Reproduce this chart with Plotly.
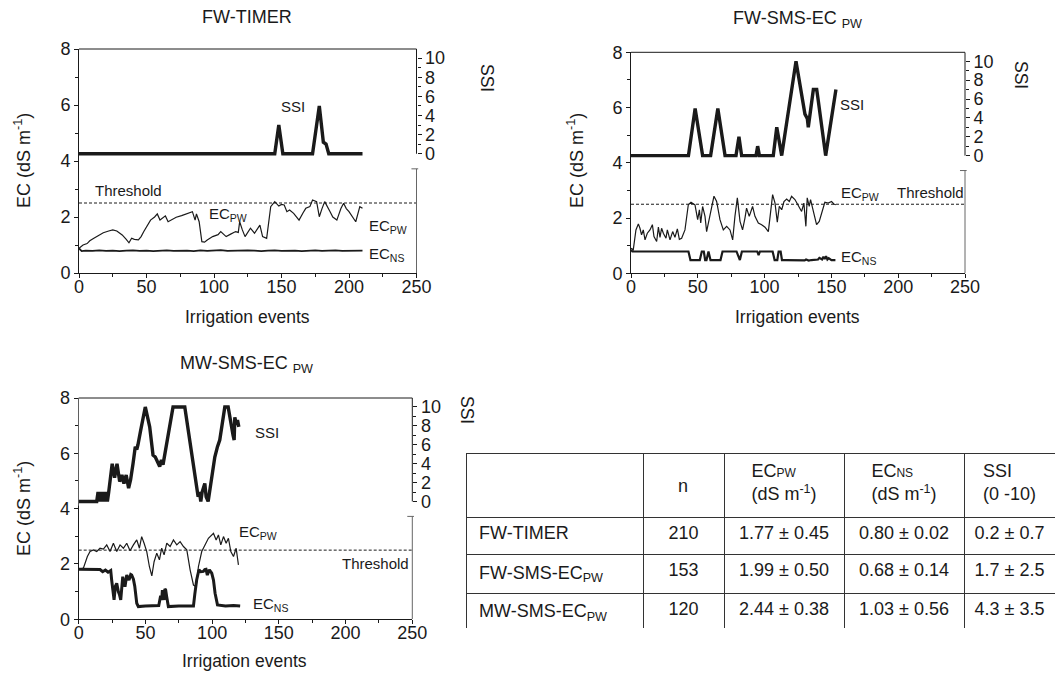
import plotly.graph_objects as go

# ---------------- DATA ----------------
# FW-TIMER
timer_pw_x = [0, 3, 6, 8, 11, 14, 18, 22, 25, 28, 32, 35, 37, 39, 41, 44, 46, 48, 51, 53, 56, 58, 60, 62, 64, 66, 69, 72, 76, 80, 84, 86, 87, 89, 91, 93, 95, 99, 103, 105, 109, 112, 116, 118, 119, 121, 123, 127, 130, 134, 136, 139, 140, 142, 145, 148, 150, 152, 154, 156, 159, 163, 166, 168, 171, 173, 176, 178, 180, 182, 186, 188, 191, 194, 196, 198, 200, 203, 205, 208, 210]
timer_pw_y = [0.88, 1.0, 1.05, 1.15, 1.24, 1.33, 1.44, 1.5, 1.54, 1.5, 1.36, 1.2, 1.08, 1.24, 1.2, 1.18, 1.3, 1.48, 1.75, 1.89, 2.0, 2.11, 1.89, 1.98, 2.04, 1.83, 1.92, 1.99, 2.05, 2.11, 2.19, 1.89, 2.11, 1.83, 1.12, 1.1, 1.18, 1.3, 1.37, 1.48, 1.30, 1.38, 1.48, 1.45, 1.83, 1.54, 1.30, 1.6, 1.42, 1.71, 1.30, 1.24, 1.6, 2.37, 2.55, 2.39, 2.45, 2.43, 2.19, 2.25, 2.13, 1.89, 2.15, 2.31, 2.37, 2.61, 2.55, 2.01, 2.3, 2.55, 2.19, 2.0, 1.89, 2.3, 2.49, 2.3, 2.19, 1.95, 1.83, 2.37, 2.31]
timer_ns_x = [0, 2, 5, 10, 15, 20, 25, 30, 35, 40, 45, 50, 55, 60, 65, 70, 75, 80, 85, 90, 95, 100, 105, 110, 115, 120, 125, 130, 135, 140, 145, 150, 155, 160, 165, 170, 175, 180, 185, 190, 195, 200, 205, 210]
timer_ns_y = [0.88, 0.78, 0.80, 0.79, 0.81, 0.79, 0.80, 0.78, 0.80, 0.81, 0.79, 0.80, 0.78, 0.80, 0.81, 0.79, 0.80, 0.80, 0.78, 0.81, 0.79, 0.80, 0.82, 0.79, 0.80, 0.79, 0.81, 0.80, 0.78, 0.80, 0.81, 0.79, 0.80, 0.80, 0.78, 0.80, 0.81, 0.79, 0.80, 0.81, 0.79, 0.80, 0.79, 0.80]
timer_ssi_x = [0, 145, 148, 151, 173, 178, 181, 183, 185, 210]
timer_ssi_y = [0, 0, 3, 0, 0, 5, 1.2, 1, 0, 0]

# FW-SMS-ECpw
fw_pw_x = [0, 1.7, 3.7, 5.5, 6.7, 7.9, 9.2, 10.5, 12.2, 14.2, 16, 17.2, 19.2, 20.5, 21.7, 22.9, 24.2, 26.2, 27.2, 29.2, 31.2, 32.9, 34.7, 36.2, 37.9, 40.4, 42.9, 44.9, 47.9, 49.9, 51.2, 52.2, 53.6, 55.4, 56.6, 59.1, 62.1, 64.1, 66.6, 69.1, 71.6, 74.1, 76.1, 77.8, 79.6, 81.6, 83.5, 85.3, 86.5, 88.5, 91, 92.8, 95.3, 97.8, 100.3, 102.8, 104.5, 106, 107.8, 109.5, 111, 112.8, 114.5, 116.5, 118.5, 120.2, 122.7, 125.2, 127.7, 129.4, 130.9, 131.9, 133.4, 134.4, 136.4, 138.9, 140.9, 142.6, 145.1, 147.6, 150.1, 151.8, 153.3]
fw_pw_y = [0.91, 0.85, 1.57, 1.79, 1.63, 1.39, 1.57, 1.21, 1.45, 1.57, 1.76, 1.33, 1.15, 1.67, 1.30, 1.63, 1.45, 1.27, 1.57, 1.21, 1.51, 1.30, 1.61, 1.23, 1.27, 1.57, 2.48, 2.57, 2.48, 1.94, 2.30, 1.82, 2.42, 2.06, 1.51, 2.12, 2.79, 2.60, 1.94, 1.57, 1.70, 1.57, 1.21, 2.06, 2.73, 1.88, 1.57, 2.0, 2.36, 2.06, 2.42, 2.06, 1.82, 1.76, 1.67, 1.51, 2.30, 2.85, 2.54, 1.85, 2.42, 2.30, 2.60, 2.69, 2.60, 2.79, 2.67, 2.48, 2.24, 2.54, 1.70, 2.73, 2.42, 2.67, 2.30, 1.76, 1.88, 2.18, 2.57, 2.54, 2.60, 2.51, 2.48]
fw_ns_x = [0, 1, 43, 44.5, 51.5, 53, 54.5, 55.5, 56.5, 58, 59.5, 67, 68.5, 79, 80.5, 81.5, 83, 94.5, 95.5, 96.5, 106, 107.5, 109.5, 110.5, 112, 113, 116, 125, 130, 131, 133, 135, 140, 141, 143, 144, 145, 146, 147, 148, 150, 153]
fw_ns_y = [0.85, 0.79, 0.79, 0.48, 0.48, 0.79, 0.79, 0.48, 0.48, 0.79, 0.48, 0.48, 0.79, 0.79, 0.6, 0.48, 0.79, 0.79, 0.66, 0.79, 0.79, 0.48, 0.48, 0.79, 0.79, 0.48, 0.48, 0.48, 0.47, 0.5, 0.46, 0.48, 0.5, 0.56, 0.5, 0.6, 0.52, 0.62, 0.5, 0.55, 0.48, 0.48]
fw_ssi_x = [0, 43, 48, 53.6, 59.6, 65, 70.4, 78.6, 80.8, 82.8, 93.6, 94.8, 96.1, 106.5, 109.1, 112.8, 123.5, 130.2, 132, 132.7, 136.5, 139, 140.2, 145.7, 153.4]
fw_ssi_y = [0, 0, 5, 0, 0, 5, 0, 0, 2, 0, 0, 1, 0, 0, 3, 0, 10, 4.4, 3.9, 3, 7, 7, 5.8, 0, 7]

# MW-SMS-ECpw
mw_pw_x = [0, 3.5, 6.5, 8.5, 11, 13.5, 16, 18.5, 21, 23.5, 26, 28.5, 31, 33.5, 36, 38.5, 41, 43.5, 45.5, 47.2, 49, 51, 53, 54.8, 56.5, 58.5, 60.5, 62.2, 64, 66, 68.5, 71, 73.5, 76, 78.5, 81, 83.5, 86, 88, 89.7, 92.2, 94.7, 97.2, 101, 103, 104.7, 106.5, 108.5, 110.5, 112.2, 114, 116, 118, 119.7]
mw_pw_y = [1.81, 1.85, 2.27, 2.45, 2.51, 2.45, 2.57, 2.54, 2.69, 2.45, 2.75, 2.45, 2.69, 2.57, 2.75, 2.48, 2.69, 2.87, 2.57, 2.99, 2.75, 2.45, 1.9, 1.57, 2.08, 2.39, 2.15, 2.57, 2.33, 2.75, 2.63, 2.87, 2.69, 2.81, 2.63, 2.51, 1.79, 1.24, 1.18, 1.9, 2.45, 2.69, 2.93, 3.11, 2.87, 3.05, 2.69, 2.99, 2.75, 2.93, 2.45, 2.27, 2.57, 1.97]
mw_ns_x = [0, 10, 16, 18, 20, 22, 24, 24.7, 25.5, 26.5, 27.5, 28.5, 29.7, 30.5, 31.5, 33, 34, 34.7, 36, 37, 37.7, 39, 39.7, 41, 42, 43.5, 44.7, 50, 57, 60, 61.4, 62.2, 62.7, 63.4, 64, 64.6, 65.2, 66, 66.5, 67.2, 75, 86, 87, 88.4, 90.1, 91.5, 93.4, 94.5, 95.4, 96.4, 97.9, 99, 99.7, 101, 102.2, 104, 110, 116, 121]
mw_ns_y = [1.81, 1.81, 1.80, 1.72, 1.78, 1.70, 1.76, 1.42, 1.1, 0.70, 1.2, 1.3, 1.0, 0.9, 0.70, 1.54, 1.3, 1.18, 1.6, 1.45, 1.42, 1.62, 1.6, 1.45, 1.2, 0.58, 0.46, 0.48, 0.48, 0.5, 0.85, 0.7, 1.06, 0.8, 0.70, 1.1, 1.06, 0.8, 0.58, 0.46, 0.48, 0.48, 0.9, 1.42, 1.79, 1.72, 1.73, 1.8, 1.81, 1.6, 1.79, 1.7, 1.67, 1.42, 0.94, 0.52, 0.48, 0.5, 0.48]
mw_ssi_x = [0, 13.5, 14.5, 15.5, 16.5, 17.5, 18.5, 19.5, 20.5, 21.5, 22.5, 25.1, 26.9, 28.7, 30.7, 32.4, 33.9, 35.6, 37.4, 38.9, 40.7, 42.4, 43.5, 44.4, 46.4, 49.9, 53.2, 55.7, 57.4, 59.4, 60.7, 62, 63.2, 70.7, 79.5, 89.5, 90.5, 91.5, 92.5, 94.5, 95.5, 97, 98, 102, 104, 105.7, 109.5, 112, 115.7, 116.5, 117, 118.2, 119, 120]
mw_ssi_y = [0, 0, 1, 0, 1, 0, 1, 0, 1, 0, 1, 4, 2.5, 4, 2.1, 2.8, 1.9, 2.8, 1.4, 2.3, 4, 5.8, 5.5, 6, 7.5, 10, 7.9, 4.9, 4.7, 4.2, 3.7, 4.4, 3.9, 10, 10, 0.5, 1, 0, 1, 1.9, 0.5, 0, 1, 4.7, 5.8, 6.5, 10, 10, 7.0, 6.5, 8.9, 8.1, 8.6, 7.9]

threshold_ec = 2.5

# table
SMALL = "<span style='font-size:12px'>{}</span>"
tbl_header = ["", "", "EC" + SMALL.format("PW") + "<br>(dS m<sup>-1</sup>)",
              "EC" + SMALL.format("NS") + "<br>(dS m<sup>-1</sup>)", "SSI<br>(0 -10)"]
tbl_n_header = "n"
tbl_treat = ["FW-TIMER", "FW-SMS-EC<sub>PW</sub>", "MW-SMS-EC<sub>PW</sub>"]
tbl_n = ["210", "153", "120"]
tbl_ecpw = ["1.77 ± 0.45", "1.99 ± 0.50", "2.44 ± 0.38"]
tbl_ecns = ["0.80 ± 0.02", "0.68 ± 0.14", "1.03 ± 0.56"]
tbl_ssi = ["0.2 ± 0.7", "1.7 ± 2.5", "4.3 ± 3.5"]

# ---------------- LAYOUT CONSTANTS ----------------
W, H = 1055, 673
FONT = "Arial, Liberation Sans, sans-serif"
INK = "#1a1a1a"


def fx(p):
    return p / W


def fy(p):
    return 1 - p / H


def nb(s):
    return s.replace(" ", "\u00a0")


SSI_BASE_EC = 4.26      # EC level where SSI = 0
SSI_TOP = 10.95         # SSI value at EC = 8
SSI_MIN = -0.45
EC_PER_SSI = (8 - SSI_BASE_EC) / SSI_TOP

panels = [
    dict(title="FW-TIMER", box=(79, 49, 416.5, 273),
         pw=(timer_pw_x, timer_pw_y), ns=(timer_ns_x, timer_ns_y), ssi=(timer_ssi_x, timer_ssi_y),
         ns_w=1.8, title_pos=(247, 17), ssi_title=(487, 78), ytitle=(22, 161), xtitle=(247, 317),
         labels=[("SSI", 148, 5.95, "left"), ("Threshold", 10.4, 2.95, "left"),
                 ("EC<sub>PW</sub>", 95, 2.1, "left"), ("EC<sub>PW</sub>", 213.6, 1.66, "left"),
                 ("EC<sub>NS</sub>", 213.6, 0.66, "left")]),
    dict(title="FW-SMS-EC <sub>PW</sub>", box=(631, 52.3, 965, 273.3),
         pw=(fw_pw_x, fw_pw_y), ns=(fw_ns_x, fw_ns_y), ssi=(fw_ssi_x, fw_ssi_y),
         ns_w=2.2, title_pos=(797, 19), ssi_title=(1021, 75), ytitle=(575, 161), xtitle=(797, 317),
         labels=[("SSI", 155, 6.12, "left"), ("EC<sub>PW</sub>", 155.7, 2.88, "left"),
                 ("Threshold", 197.6, 2.92, "left"), ("EC<sub>NS</sub>", 155.7, 0.58, "left")]),
    dict(title="MW-SMS-EC <sub>PW</sub>", box=(78.7, 398, 412.3, 619.3),
         pw=(mw_pw_x, mw_pw_y), ns=(mw_ns_x, mw_ns_y), ssi=(mw_ssi_x, mw_ssi_y),
         ns_w=3.0, title_pos=(246, 364), ssi_title=(467, 410), ytitle=(22, 509), xtitle=(244, 661),
         labels=[("SSI", 130.7, 6.75, "left"), ("EC<sub>PW</sub>", 118.7, 3.12, "left"),
                 ("Threshold", 195.9, 2.0, "left"), ("EC<sub>NS</sub>", 129.2, 0.55, "left")]),
]

fig = go.Figure()
layout = dict(template="none", width=W, height=H,
              margin=dict(l=0, r=0, t=0, b=0, pad=0, autoexpand=False), autosize=False,
              paper_bgcolor="white", plot_bgcolor="white", showlegend=False,
              font=dict(family=FONT, size=17, color=INK), shapes=[], annotations=[])

axis_common = dict(showgrid=False, zeroline=False, ticks="outside", tickcolor=INK, tickwidth=1,
                   linecolor=INK, linewidth=1, fixedrange=True, automargin=False,
                   tickfont=dict(family=FONT, size=18, color=INK))

for i, p in enumerate(panels):
    n = i + 1
    xname = "x" if n == 1 else f"x{n}"
    ec_id, ssi_id = 2 * n - 1, 2 * n
    ecname = "y" if ec_id == 1 else f"y{ec_id}"
    ssiname = f"y{ssi_id}"
    l, t, r, b = p["box"]
    ec_px = (b - t) / 8.0
    ssi_bottom_px = b - (SSI_BASE_EC + SSI_MIN * EC_PER_SSI) * ec_px

    layout["xaxis" + ("" if n == 1 else str(n))] = dict(
        axis_common, domain=[fx(l), fx(r)], anchor=ecname, range=[0, 250], dtick=50, tick0=0,
        ticklen=4, showline=True, ticklabelstandoff=-7,
        minor=dict(ticks="outside", dtick=25, tick0=0, ticklen=3, tickcolor=INK))
    layout["yaxis" + ("" if ec_id == 1 else str(ec_id))] = dict(
        axis_common, domain=[fy(b), fy(t)], anchor=xname, range=[0, 8], dtick=2, tick0=0,
        ticklen=4, showline=True,
        minor=dict(ticks="outside", dtick=1, tick0=0, ticklen=3, tickcolor=INK))
    layout["yaxis" + str(ssi_id)] = dict(
        axis_common, domain=[fy(ssi_bottom_px), fy(t)], anchor=xname, side="right",
        range=[SSI_MIN, SSI_TOP], dtick=2, tick0=0, ticklen=4, showline=False,
        minor=dict(ticks="outside", dtick=1, tick0=0, ticklen=3, tickcolor=INK))

    fig.add_trace(go.Scatter(x=p["pw"][0], y=p["pw"][1], xaxis=xname, yaxis=ecname, mode="lines",
                             line=dict(color=INK, width=1.2), hoverinfo="skip"))
    fig.add_trace(go.Scatter(x=p["ns"][0], y=p["ns"][1], xaxis=xname, yaxis=ecname, mode="lines",
                             line=dict(color=INK, width=p["ns_w"]), hoverinfo="skip"))
    fig.add_trace(go.Scatter(x=p["ssi"][0], y=p["ssi"][1], xaxis=xname, yaxis=ssiname, mode="lines",
                             line=dict(color=INK, width=3.4), hoverinfo="skip"))

    xdom = f"{xname} domain"
    ecdom = f"{ecname} domain"
    layout["shapes"].append(dict(type="line", xref=xdom, yref=ecdom, x0=0, x1=1, y0=1, y1=1,
                                 line=dict(color=INK, width=1)))
    layout["shapes"].append(dict(type="line", xref=xdom, yref=ssiname, x0=1, x1=1, y0=0, y1=SSI_TOP,
                                 line=dict(color=INK, width=1)))
    layout["shapes"].append(dict(type="line", xref=xdom, yref=ssiname, x0=0, x1=1, y0=0, y1=0,
                                 layer="below", line=dict(color="#b0b0b0", width=1)))
    layout["shapes"].append(dict(type="line", xref=xdom, yref=ecname, x0=1, x1=1, y0=0, y1=3.72,
                                 line=dict(color="#666", width=1)))
    layout["shapes"].append(dict(type="line", xref=xdom, yref=ecname, x0=0.985, x1=1.005, y0=3.72, y1=3.72,
                                 line=dict(color="#666", width=1)))
    layout["shapes"].append(dict(type="line", xref=xdom, yref=ecname, x0=0, x1=1,
                                 y0=threshold_ec, y1=threshold_ec, layer="below",
                                 line=dict(color=INK, width=1, dash="3px,2px")))

    for txt, lx, ly, anc in p["labels"]:
        layout["annotations"].append(dict(text=txt, x=lx, y=ly, xref=xname, yref=ecname,
                                          xanchor=anc, yanchor="middle", showarrow=False,
                                          font=dict(size=15, color=INK)))
    tx, ty = p["title_pos"]
    layout["annotations"].append(dict(text=p["title"], x=fx(tx), y=fy(ty), xref="paper", yref="paper",
                                      xanchor="center", yanchor="middle", showarrow=False,
                                      font=dict(size=18, color=INK)))
    sx, sy = p["ssi_title"]
    layout["annotations"].append(dict(text="SSI", x=fx(sx), y=fy(sy), xref="paper", yref="paper",
                                      xanchor="center", yanchor="middle", showarrow=False, textangle=90,
                                      font=dict(size=17.5, color=INK)))
    yx, yy = p["ytitle"]
    layout["annotations"].append(dict(text="EC (dS m<sup>-1</sup>)", x=fx(yx), y=fy(yy), xref="paper",
                                      yref="paper", xanchor="center", yanchor="middle", showarrow=False,
                                      textangle=-90, font=dict(size=18, color=INK)))
    ax_, ay_ = p["xtitle"]
    layout["annotations"].append(dict(text="Irrigation events", x=fx(ax_), y=fy(ay_), xref="paper",
                                      yref="paper", xanchor="center", yanchor="middle", showarrow=False,
                                      font=dict(size=17.5, color=INK)))

# table
fig.add_trace(go.Table(
    domain=dict(x=[fx(466), 1.0], y=[fy(629), fy(453)]),
    columnwidth=[177, 81, 120, 120, 91],
    header=dict(values=tbl_header, height=64, align=["left", "center", "center", "center", "center"],
                font=dict(family=FONT, size=18, color=INK), fill=dict(color="white"),
                line=dict(color="#333", width=1)),
    cells=dict(values=[["\u00a0" + s for s in tbl_treat], tbl_n,
                       [nb(s) for s in tbl_ecpw], [nb(s) for s in tbl_ecns], [nb(s) for s in tbl_ssi]],
               height=37.5, align=["left", "center", "center", "center", "center"],
               font=dict(family=FONT, size=18, color=INK), fill=dict(color="white"),
               line=dict(color="#333", width=1)),
))
layout["annotations"].append(dict(text=tbl_n_header, x=fx(682.5), y=fy(486), xref="paper", yref="paper",
                                  xanchor="center", yanchor="middle", showarrow=False,
                                  font=dict(size=18, color=INK)))

fig.update_layout(**layout)
fig.write_html("out.html", config={"displayModeBar": False, "staticPlot": True},
               post_script="document.body.style.margin='0px';document.body.style.padding='0px';")
